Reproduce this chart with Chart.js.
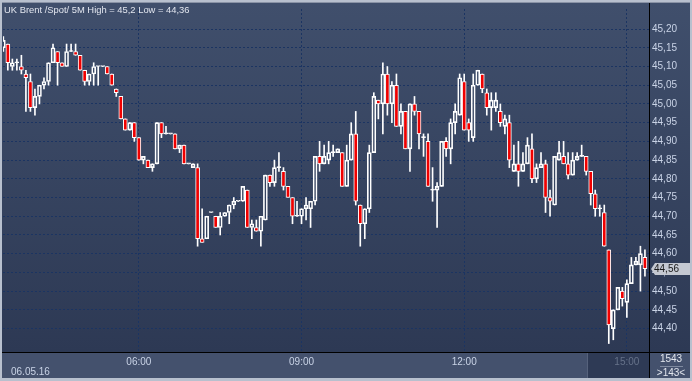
<!DOCTYPE html>
<html>
<head>
<meta charset="utf-8">
<script src="https://cdn.jsdelivr.net/npm/chart.js@4.4.0/dist/chart.umd.min.js"></script>
<style>
html, body { margin: 0; padding: 0; background: #b4bccb; }
canvas { display: block; }
</style>
</head>
<body>
<canvas id="grafico" width="692" height="381"></canvas>
<script>
// UK Brent /Spot/ 5M, 143 candles
const opens = [
    45.15, 45.16, 45.10, 45.11, 45.10, 45.08, 45.06, 44.99, 45.02, 45.05,
    45.06, 45.11, 45.14, 45.11, 45.10, 45.14, 45.14, 45.13, 45.09, 45.06,
    45.08, 45.10, 45.10, 45.10, 45.08, 45.04, 45.02, 44.96, 44.93, 44.95,
    44.91, 44.85, 44.85, 44.83, 44.84, 44.95, 44.92, 44.92, 44.92, 44.88,
    44.89, 44.84, 44.83, 44.83, 44.64, 44.64, 44.71, 44.70, 44.67, 44.70,
    44.71, 44.73, 44.74, 44.74, 44.77, 44.67, 44.67, 44.66, 44.69, 44.81,
    44.79, 44.83, 44.82, 44.78, 44.75, 44.70, 44.70, 44.72, 44.72, 44.74,
    44.86, 44.84, 44.85, 44.87, 44.87, 44.87, 44.78, 44.85, 44.92, 44.73,
    44.68, 44.72, 44.87, 45.01, 45.00, 45.08, 45.00, 45.05, 44.94, 44.98,
    44.88, 45.00, 44.98, 44.91, 44.90, 44.77, 44.77, 44.78, 44.90, 44.88,
    44.95, 44.97, 45.06, 44.95, 44.91, 45.05, 45.08, 45.03, 44.99, 44.99,
    44.98, 44.94, 44.95, 44.82, 44.84, 44.82, 44.84, 44.88, 44.80, 44.83,
    44.84, 44.75, 44.73, 44.85, 44.86, 44.84, 44.81, 44.85, 44.86, 44.86,
    44.82, 44.76, 44.72, 44.71, 44.61, 44.40, 44.45, 44.50, 44.47, 44.52,
    44.57, 44.57, 44.59
];
const highs = [
    45.18, 45.16, 45.12, 45.12, 45.13, 45.09, 45.08, 45.04, 45.05, 45.07,
    45.11, 45.16, 45.14, 45.11, 45.16, 45.16, 45.16, 45.13, 45.09, 45.08,
    45.11, 45.10, 45.10, 45.10, 45.08, 45.04, 45.02, 44.96, 44.95, 44.95,
    44.91, 44.86, 44.85, 44.84, 44.95, 44.95, 44.94, 44.92, 44.92, 44.89,
    44.89, 44.84, 44.84, 44.84, 44.72, 44.70, 44.71, 44.70, 44.71, 44.71,
    44.73, 44.75, 44.74, 44.78, 44.77, 44.69, 44.69, 44.70, 44.81, 44.81,
    44.85, 44.87, 44.83, 44.78, 44.75, 44.74, 44.72, 44.75, 44.74, 44.86,
    44.90, 44.89, 44.90, 44.89, 44.88, 44.87, 44.89, 44.95, 44.98, 44.73,
    44.72, 44.89, 45.03, 45.01, 45.11, 45.10, 45.06, 45.08, 45.00, 44.98,
    45.00, 45.02, 44.98, 44.92, 44.92, 44.83, 44.79, 44.90, 44.91, 44.96,
    45.00, 45.08, 45.08, 44.96, 45.08, 45.09, 45.08, 45.04, 45.03, 45.03,
    45.00, 44.97, 44.97, 44.89, 44.90, 44.87, 44.91, 44.92, 44.84, 44.87,
    44.85, 44.77, 44.86, 44.90, 44.90, 44.87, 44.87, 44.87, 44.89, 44.86,
    44.82, 44.77, 44.73, 44.73, 44.61, 44.45, 44.51, 44.51, 44.53, 44.59,
    44.59, 44.62, 44.61
];
const lows = [
    45.14, 45.09, 45.09, 45.09, 45.08, 44.98, 44.98, 44.97, 45.00, 45.04,
    45.05, 45.11, 45.05, 45.10, 45.10, 45.14, 45.13, 45.09, 45.05, 45.05,
    45.05, 45.05, 45.10, 45.08, 45.05, 45.02, 44.96, 44.93, 44.93, 44.90,
    44.85, 44.84, 44.83, 44.82, 44.84, 44.91, 44.92, 44.92, 44.88, 44.87,
    44.84, 44.84, 44.83, 44.62, 44.63, 44.64, 44.71, 44.67, 44.65, 44.70,
    44.68, 44.72, 44.74, 44.74, 44.67, 44.64, 44.66, 44.62, 44.69, 44.78,
    44.78, 44.82, 44.77, 44.75, 44.68, 44.70, 44.68, 44.69, 44.67, 44.73,
    44.82, 44.84, 44.84, 44.86, 44.87, 44.78, 44.78, 44.85, 44.73, 44.62,
    44.64, 44.71, 44.87, 44.96, 44.92, 44.97, 44.95, 44.94, 44.92, 44.88,
    44.82, 44.97, 44.88, 44.86, 44.78, 44.74, 44.67, 44.78, 44.86, 44.84,
    44.92, 44.97, 44.93, 44.90, 44.90, 45.05, 45.03, 44.97, 44.93, 44.98,
    44.94, 44.92, 44.83, 44.82, 44.78, 44.82, 44.84, 44.79, 44.79, 44.83,
    44.71, 44.70, 44.73, 44.85, 44.84, 44.80, 44.81, 44.85, 44.86, 44.81,
    44.73, 44.70, 44.70, 44.62, 44.36, 44.37, 44.45, 44.46, 44.43, 44.52,
    44.57, 44.50, 44.54
];
const closes = [
    45.17, 45.11, 45.11, 45.11, 45.09, 45.07, 44.99, 45.02, 45.05, 45.06,
    45.11, 45.15, 45.11, 45.10, 45.14, 45.14, 45.13, 45.09, 45.06, 45.08,
    45.10, 45.10, 45.10, 45.08, 45.05, 45.03, 44.96, 44.93, 44.95, 44.91,
    44.85, 44.86, 44.83, 44.84, 44.95, 44.92, 44.92, 44.92, 44.88, 44.89,
    44.84, 44.84, 44.84, 44.64, 44.63, 44.70, 44.71, 44.67, 44.70, 44.71,
    44.73, 44.74, 44.74, 44.78, 44.67, 44.68, 44.66, 44.70, 44.81, 44.79,
    44.83, 44.83, 44.78, 44.75, 44.70, 44.70, 44.72, 44.73, 44.74, 44.86,
    44.84, 44.86, 44.87, 44.87, 44.88, 44.78, 44.85, 44.92, 44.74, 44.68,
    44.72, 44.87, 45.02, 45.00, 45.08, 45.00, 45.05, 44.94, 44.98, 44.88,
    45.00, 44.98, 44.92, 44.91, 44.78, 44.77, 44.78, 44.90, 44.88, 44.95,
    44.98, 45.07, 44.93, 44.93, 45.05, 45.09, 45.04, 44.99, 45.01, 45.01,
    44.95, 44.96, 44.85, 44.84, 44.82, 44.84, 44.89, 44.80, 44.83, 44.84,
    44.75, 44.74, 44.86, 44.87, 44.84, 44.81, 44.85, 44.86, 44.86, 44.82,
    44.76, 44.72, 44.72, 44.62, 44.41, 44.45, 44.51, 44.48, 44.52, 44.57,
    44.58, 44.60, 44.56
];

// time axis: candle index of each labelled hour
const tickIndex = [30, 66, 102, 138];
const tickLabels = ["06:00", "09:00", "12:00", "15:00"];
const yTicks = [44.40, 44.45, 44.50, 44.55, 44.60, 44.65, 44.70, 44.75, 44.80,
    44.85, 44.90, 44.95, 45.00, 45.05, 45.10, 45.15, 45.20];

const titulo = "UK Brent /Spot/ 5M High = 45,2 Low = 44,36";
const dataSessao = "06.05.16";
const contador = "1543";
const visiveis = ">143<";

const FONTE = "Liberation Sans, Arial, sans-serif";

function virgula(v) {
    return Number(v).toFixed(2).replace(".", ",");
}

const corpo = opens.map((o, i) => ({ x: i, y: [o, closes[i]] }));
const pavioAlto = opens.map((o, i) => ({ x: i, y: [Math.max(o, closes[i]), highs[i]] }));
const pavioBaixo = opens.map((o, i) => ({ x: i, y: [lows[i], Math.min(o, closes[i])] }));
const coresCorpo = opens.map((o, i) => closes[i] < o ? "#f00000" : "rgba(0,0,0,0)");

const fundo = {
    id: "fundo",
    beforeDraw(chart) {
        const ctx = chart.ctx;
        ctx.save();
        ctx.fillStyle = "#b8c0ce";
        ctx.fillRect(0, 0, 692, 381);
        const grad = ctx.createLinearGradient(0, 2, 0, 352);
        grad.addColorStop(0, "#404f6c");
        grad.addColorStop(1, "#2d3954");
        ctx.fillStyle = grad;
        ctx.fillRect(2, 3, 688, 349);
        ctx.fillStyle = "#8a93a6";
        ctx.fillRect(2, 2, 688, 1);
        ctx.fillStyle = "#44516d";
        ctx.fillRect(2, 352, 688, 26);
        ctx.fillStyle = "#2e3a55";
        ctx.fillRect(588, 353, 61, 25);
        ctx.fillStyle = "#56627c";
        ctx.fillRect(587, 353, 1, 25);
        ctx.restore();
    },
    afterDraw(chart) {
        const ctx = chart.ctx;
        ctx.save();
        ctx.strokeStyle = "#000000";
        ctx.lineWidth = 1;
        ctx.beginPath();
        ctx.moveTo(649.5, 3);
        ctx.lineTo(649.5, 378);
        ctx.moveTo(2, 352.5);
        ctx.lineTo(690, 352.5);
        ctx.stroke();

        ctx.fillStyle = "#e2e6ef";
        ctx.font = "9.4px " + FONTE;
        ctx.textBaseline = "middle";
        ctx.textAlign = "left";
        ctx.fillText(titulo, 4, 10);

        ctx.fillStyle = "#c9d3e6";
        ctx.font = "10px " + FONTE;
        ctx.fillText(dataSessao, 11, 372);

        ctx.textAlign = "center";
        ctx.fillStyle = "#e2e6ee";
        ctx.fillText(contador, 671, 359);
        ctx.fillText(visiveis, 671, 373);
        ctx.fillStyle = "#7f8aa0";
        ctx.fillRect(660, 366, 23, 1);

        // etiqueta do ultimo preco
        const ultimo = closes[closes.length - 1];
        const y = Math.round(chart.scales.y.getPixelForValue(ultimo));
        ctx.fillStyle = "#c5c9d2";
        ctx.beginPath();
        ctx.moveTo(651, y);
        ctx.lineTo(655, y - 6);
        ctx.lineTo(690, y - 6);
        ctx.lineTo(690, y + 6);
        ctx.lineTo(655, y + 6);
        ctx.closePath();
        ctx.fill();
        ctx.fillStyle = "#1a1a1a";
        ctx.textAlign = "left";
        ctx.fillText(virgula(ultimo), 654, y + 0.5);
        ctx.restore();
    }
};

new Chart(document.getElementById("grafico"), {
    type: "bar",
    data: {
        datasets: [
            {
                data: pavioAlto,
                backgroundColor: "#ffffff",
                barThickness: 1,
                grouped: false
            },
            {
                data: pavioBaixo,
                backgroundColor: "#ffffff",
                barThickness: 1,
                grouped: false
            },
            {
                data: corpo,
                backgroundColor: coresCorpo,
                borderColor: "#ffffff",
                borderWidth: 1,
                borderSkipped: false,
                barThickness: 4,
                minBarLength: 1,
                grouped: false
            }
        ]
    },
    options: {
        responsive: false,
        animation: false,
        devicePixelRatio: 1,
        layout: { padding: { left: 3, top: 5, right: 0, bottom: 3 } },
        plugins: { legend: { display: false }, tooltip: { enabled: false } },
        scales: {
            x: {
                type: "linear",
                offset: false,
                min: -0.07,
                max: 142.9,
                afterBuildTicks: s => { s.ticks = tickIndex.map(v => ({ value: v })); },
                afterFit: s => { s.height = 26; },
                grid: { color: "#1b3462", lineWidth: 1, drawTicks: false, offset: false },
                border: { display: false, dash: [2, 2] },
                ticks: {
                    autoSkip: false,
                    maxRotation: 0,
                    padding: 4,
                    font: { family: FONTE, size: 10 },
                    color: ctx => ctx.index === 3 ? "#66728a" : "#c9d3e6",
                    callback: v => tickLabels[tickIndex.indexOf(v)]
                }
            },
            y: {
                position: "right",
                min: 44.3374,
                max: 45.2536,
                afterBuildTicks: s => { s.ticks = yTicks.map(v => ({ value: v })); },
                afterFit: s => { s.width = 43; },
                grid: { color: "#1b3462", lineWidth: 1, drawTicks: false },
                border: { display: false, dash: [2, 2] },
                ticks: {
                    autoSkip: false,
                    padding: 3,
                    font: { family: FONTE, size: 10 },
                    color: "#c9d3e6",
                    callback: v => virgula(v)
                }
            }
        }
    },
    plugins: [fundo]
});
</script>
</body>
</html>
